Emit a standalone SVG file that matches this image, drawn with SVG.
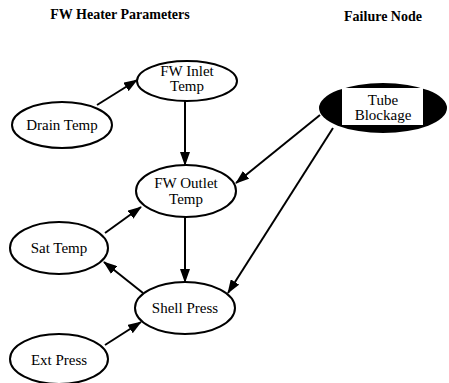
<svg xmlns="http://www.w3.org/2000/svg" width="449" height="383" viewBox="0 0 449 383">
<style>
.n{fill:#fff;stroke:#000;stroke-width:2}
.t{font-family:"Liberation Serif","Times New Roman",serif;font-size:15px;text-anchor:middle;fill:#000}
.h{font-family:"Liberation Serif","Times New Roman",serif;font-size:14px;font-weight:bold;text-anchor:middle;fill:#000}
.e{stroke:#000;stroke-width:2;fill:none;marker-end:url(#a)}
</style>
<defs>
<marker id="a" markerWidth="14" markerHeight="10" refX="13" refY="5" orient="auto" markerUnits="userSpaceOnUse">
<path d="M0,0 L14,5 L0,10 z" fill="#000"/>
</marker>
</defs>
<text class="h" x="120" y="19">FW Heater Parameters</text>
<text class="h" x="383" y="21">Failure Node</text>
<g id="edges">
<line class="e" x1="97" y1="105" x2="137" y2="80"/>
<line class="e" x1="185" y1="101" x2="185" y2="165"/>
<line class="e" x1="320" y1="115" x2="236" y2="183"/>
<line class="e" x1="333" y1="128" x2="228" y2="293"/>
<line class="e" x1="185" y1="217" x2="185" y2="282"/>
<line class="e" x1="105" y1="233" x2="141" y2="207"/>
<line class="e" x1="143" y1="293" x2="104" y2="262"/>
<line class="e" x1="105" y1="345" x2="141" y2="322"/>
</g>
<g id="fw-inlet"><ellipse class="n" cx="187" cy="81" rx="50" ry="20"/><text class="t" x="187" y="76">FW Inlet</text><text class="t" x="187" y="91">Temp</text></g>
<g id="drain-temp"><ellipse class="n" cx="62" cy="125" rx="50" ry="23"/><text class="t" x="62" y="130">Drain Temp</text></g>
<g id="tube-blockage"><ellipse cx="383" cy="108" rx="64" ry="25" fill="#000"/><rect x="342" y="88" width="81" height="37" fill="#fff"/><text class="t" x="383" y="105">Tube</text><text class="t" x="383" y="120">Blockage</text></g>
<g id="fw-outlet"><ellipse class="n" cx="186" cy="191" rx="50" ry="26"/><text class="t" x="186" y="188">FW Outlet</text><text class="t" x="186" y="204">Temp</text></g>
<g id="sat-temp"><ellipse class="n" cx="59" cy="248" rx="49" ry="26"/><text class="t" x="59" y="253">Sat Temp</text></g>
<g id="shell-press"><ellipse class="n" cx="185" cy="308" rx="50" ry="26"/><text class="t" x="185" y="313">Shell Press</text></g>
<g id="ext-press"><ellipse class="n" cx="59" cy="359" rx="49" ry="25"/><text class="t" x="59" y="365">Ext Press</text></g>
</svg>
